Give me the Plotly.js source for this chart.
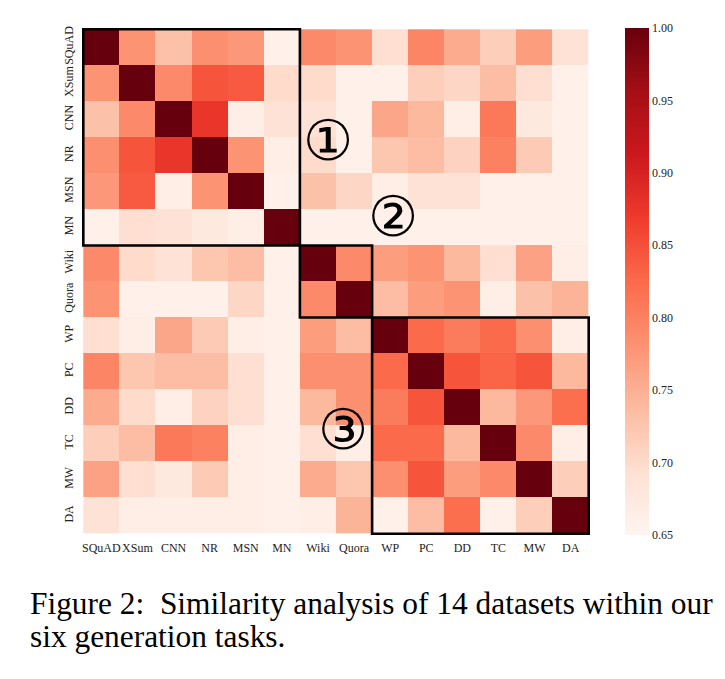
<!DOCTYPE html>
<html><head><meta charset="utf-8">
<script src="https://cdn.plot.ly/plotly-3.0.1.min.js"></script>
<style>html,body{margin:0;padding:0;background:#fff;}</style>
</head><body>
<div id="chart" style="width:725px;height:679px;"></div>
<script>
const datasets = ["SQuAD","XSum","CNN","NR","MSN","MN","Wiki","Quora","WP","PC","DD","TC","MW","DA"];
const tickLabels = [0.65,0.70,0.75,0.80,0.85,0.90,0.95,1.00];

const rowSQuAD = [1.00,0.780,0.730,0.785,0.775,0.660,0.790,0.780,0.695,0.795,0.755,0.715,0.770,0.690];
const rowXSum  = [0.780,1.00,0.790,0.845,0.840,0.700,0.700,0.660,0.660,0.715,0.705,0.735,0.695,0.660];
const rowCNN   = [0.730,0.790,1.00,0.875,0.665,0.690,0.690,0.660,0.760,0.740,0.665,0.810,0.675,0.660];
const rowNR    = [0.785,0.845,0.875,1.00,0.780,0.665,0.700,0.660,0.725,0.735,0.710,0.800,0.720,0.660];
const rowMSN   = [0.775,0.840,0.665,0.780,1.00,0.660,0.730,0.705,0.665,0.690,0.690,0.660,0.660,0.660];
const rowMN    = [0.660,0.695,0.690,0.675,0.665,1.00,0.660,0.660,0.660,0.660,0.660,0.660,0.660,0.660];
const rowWiki  = [0.790,0.700,0.690,0.725,0.735,0.660,1.00,0.790,0.770,0.780,0.740,0.695,0.765,0.665];
const rowQuora = [0.780,0.660,0.660,0.660,0.705,0.660,0.790,1.00,0.735,0.770,0.780,0.665,0.730,0.745];
const rowWP    = [0.695,0.665,0.760,0.720,0.665,0.660,0.770,0.735,1.00,0.825,0.805,0.825,0.785,0.665];
const rowPC    = [0.795,0.725,0.735,0.735,0.695,0.660,0.785,0.785,0.825,1.00,0.845,0.830,0.845,0.740];
const rowDD    = [0.755,0.700,0.665,0.710,0.695,0.660,0.740,0.785,0.805,0.845,1.00,0.740,0.775,0.820];
const rowTC    = [0.715,0.735,0.810,0.800,0.665,0.660,0.695,0.665,0.825,0.825,0.740,1.00,0.790,0.665];
const rowMW    = [0.765,0.695,0.675,0.720,0.665,0.660,0.755,0.725,0.785,0.845,0.770,0.790,1.00,0.715];
const rowDA    = [0.690,0.665,0.665,0.665,0.665,0.660,0.665,0.745,0.660,0.735,0.820,0.660,0.715,1.00];

const z = [rowSQuAD,rowXSum,rowCNN,rowNR,rowMSN,rowMN,rowWiki,rowQuora,rowWP,rowPC,rowDD,rowTC,rowMW,rowDA];

const reds = [
  [0.0,"#fff5f0"],[0.125,"#fee0d2"],[0.25,"#fcbba1"],[0.375,"#fc9272"],
  [0.5,"#fb6a4a"],[0.625,"#ef3b2c"],[0.75,"#cb181d"],[0.875,"#a50f15"],[1.0,"#67000d"]
];

const serif = "Liberation Serif, Times New Roman, DejaVu Serif, serif";

const trace = {
  type: "heatmap",
  x: datasets, y: datasets, z: z,
  zmin: 0.65, zmax: 1.0,
  colorscale: reds,
  xgap: 0, ygap: 0,
  colorbar: {
    x: 1.069, xanchor: "left", xpad: 0,
    y: 0.5, yanchor: "middle", len: 1, ypad: 0,
    thickness: 24, outlinewidth: 0,
    tickvals: tickLabels, ticktext: tickLabels.map(v => v.toFixed(2)),
    ticks: "", ticklabelpad: 8,
    tickfont: {family: serif, size: 12, color: "#222"}
  }
};

function box(a, b) {
  return {type: "rect", xref: "x", yref: "y",
    x0: a - 0.5, x1: b + 0.5, y0: a - 0.5, y1: b + 0.5,
    line: {color: "#000", width: 2.6}, fillcolor: "rgba(0,0,0,0)"};
}

const layout = {
  width: 725, height: 679,
  margin: {l: 82, r: 135, t: 28, b: 144},
  paper_bgcolor: "#fff", plot_bgcolor: "#fff",
  font: {family: serif, color: "#222"},
  xaxis: {
    type: "category", tickfont: {family: serif, size: 12, color: "#222"},
    showgrid: false, zeroline: false, ticks: "", tickangle: 0, ticklabelstandoff: 4
  },
  yaxis: {
    type: "category", autorange: "reversed",
    tickfont: {family: serif, size: 12, color: "#222"},
    showgrid: false, zeroline: false, ticks: "", tickangle: -90, ticklabelstandoff: 6
  },
  shapes: [box(0,5), box(6,7), box(8,13)],
  annotations: [
    {x: 6.28, y: 2.59, xref: "x", yref: "y", text: "①", showarrow: false,
     font: {family: serif, size: 56, color: "#000"}},
    {x: 8.07, y: 4.7, xref: "x", yref: "y", text: "②", showarrow: false,
     font: {family: serif, size: 56, color: "#000"}},
    {x: 6.69, y: 10.63, xref: "x", yref: "y", text: "③", showarrow: false,
     font: {family: serif, size: 56, color: "#000"}},
    {x: (28 - 82) / 508, y: (535 - 603) / 507, xref: "paper", yref: "paper", xanchor: "left", yanchor: "middle",
     text: "Figure 2:  Similarity analysis of 14 datasets within our", showarrow: false,
     font: {family: serif, size: 31.4, color: "#000"}},
    {x: (28 - 82) / 508, y: (535 - 636) / 507, xref: "paper", yref: "paper", xanchor: "left", yanchor: "middle",
     text: "six generation tasks.", showarrow: false,
     font: {family: serif, size: 31.4, color: "#000"}}
  ]
};

Plotly.newPlot("chart", [trace], layout, {displayModeBar: false, staticPlot: true});
</script>
</body></html>
